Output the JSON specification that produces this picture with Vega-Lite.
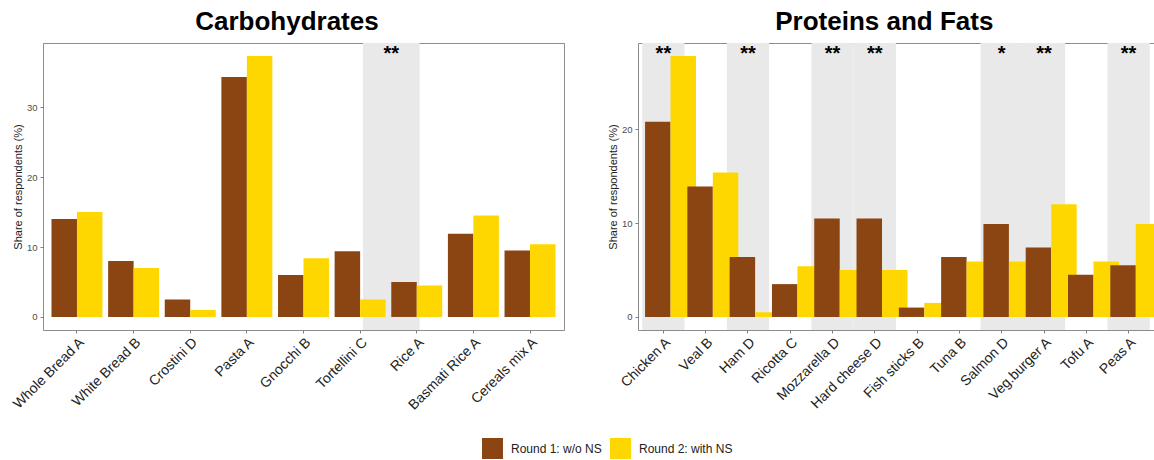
{
  "$schema": "https://vega.github.io/schema/vega-lite/v6.json",
  "padding": {"left": 9, "top": 8, "right": 0, "bottom": 0},
  "background": "white",
  "datasets": {
    "carb": [
      {"item": "Whole Bread A", "round": "Round 1: w/o NS", "share": 14.0},
      {"item": "Whole Bread A", "round": "Round 2: with NS", "share": 15.0},
      {"item": "White Bread B", "round": "Round 1: w/o NS", "share": 8.0},
      {"item": "White Bread B", "round": "Round 2: with NS", "share": 7.0},
      {"item": "Crostini D", "round": "Round 1: w/o NS", "share": 2.5},
      {"item": "Crostini D", "round": "Round 2: with NS", "share": 1.0},
      {"item": "Pasta A", "round": "Round 1: w/o NS", "share": 34.3},
      {"item": "Pasta A", "round": "Round 2: with NS", "share": 37.3},
      {"item": "Gnocchi B", "round": "Round 1: w/o NS", "share": 6.0},
      {"item": "Gnocchi B", "round": "Round 2: with NS", "share": 8.4},
      {"item": "Tortellini C", "round": "Round 1: w/o NS", "share": 9.4},
      {"item": "Tortellini C", "round": "Round 2: with NS", "share": 2.5},
      {"item": "Rice A", "round": "Round 1: w/o NS", "share": 5.0},
      {"item": "Rice A", "round": "Round 2: with NS", "share": 4.5},
      {"item": "Basmati Rice A", "round": "Round 1: w/o NS", "share": 11.9},
      {"item": "Basmati Rice A", "round": "Round 2: with NS", "share": 14.5},
      {"item": "Cereals mix A", "round": "Round 1: w/o NS", "share": 9.5},
      {"item": "Cereals mix A", "round": "Round 2: with NS", "share": 10.4}
    ],
    "prot": [
      {"item": "Chicken A", "round": "Round 1: w/o NS", "share": 20.8},
      {"item": "Chicken A", "round": "Round 2: with NS", "share": 27.8},
      {"item": "Veal B", "round": "Round 1: w/o NS", "share": 13.9},
      {"item": "Veal B", "round": "Round 2: with NS", "share": 15.4},
      {"item": "Ham D", "round": "Round 1: w/o NS", "share": 6.4},
      {"item": "Ham D", "round": "Round 2: with NS", "share": 0.5},
      {"item": "Ricotta C", "round": "Round 1: w/o NS", "share": 3.5},
      {"item": "Ricotta C", "round": "Round 2: with NS", "share": 5.4},
      {"item": "Mozzarella D", "round": "Round 1: w/o NS", "share": 10.5},
      {"item": "Mozzarella D", "round": "Round 2: with NS", "share": 5.0},
      {"item": "Hard cheese D", "round": "Round 1: w/o NS", "share": 10.5},
      {"item": "Hard cheese D", "round": "Round 2: with NS", "share": 5.0},
      {"item": "Fish sticks B", "round": "Round 1: w/o NS", "share": 1.0},
      {"item": "Fish sticks B", "round": "Round 2: with NS", "share": 1.5},
      {"item": "Tuna B", "round": "Round 1: w/o NS", "share": 6.4},
      {"item": "Tuna B", "round": "Round 2: with NS", "share": 5.9},
      {"item": "Salmon D", "round": "Round 1: w/o NS", "share": 9.9},
      {"item": "Salmon D", "round": "Round 2: with NS", "share": 5.9},
      {"item": "Veg.burger A", "round": "Round 1: w/o NS", "share": 7.4},
      {"item": "Veg.burger A", "round": "Round 2: with NS", "share": 12.0},
      {"item": "Tofu A", "round": "Round 1: w/o NS", "share": 4.5},
      {"item": "Tofu A", "round": "Round 2: with NS", "share": 5.9},
      {"item": "Peas A", "round": "Round 1: w/o NS", "share": 5.5},
      {"item": "Peas A", "round": "Round 2: with NS", "share": 9.9}
    ],
    "carbSig": [
      {"item": "Rice A", "sig": "**"}
    ],
    "protSig": [
      {"item": "Chicken A", "sig": "**"},
      {"item": "Ham D", "sig": "**"},
      {"item": "Mozzarella D", "sig": "**"},
      {"item": "Hard cheese D", "sig": "**"},
      {"item": "Salmon D", "sig": "*"},
      {"item": "Veg.burger A", "sig": "**"},
      {"item": "Peas A", "sig": "**"}
    ]
  },
  "hconcat": [
    {
      "width": 521,
      "height": 287,
      "title": {"text": "Carbohydrates"},
      "layer": [
        {
          "data": {"name": "carbSig"},
          "mark": {"type": "rect", "color": "#e9e9e9"},
          "encoding": {
            "x": {"field": "item", "type": "nominal", "bandPosition": -0.45, "title": null,
                  "scale": {"domain": ["Whole Bread A", "White Bread B", "Crostini D", "Pasta A", "Gnocchi B", "Tortellini C", "Rice A", "Basmati Rice A", "Cereals mix A"], "paddingInner": 0, "paddingOuter": 0.1}},
            "x2": {"field": "item", "bandPosition": 0.55}
          }
        },
        {
          "data": {"name": "carb"},
          "mark": {"type": "bar"},
          "encoding": {
            "x": {"field": "item", "type": "nominal", "title": null,
                  "scale": {"domain": ["Whole Bread A", "White Bread B", "Crostini D", "Pasta A", "Gnocchi B", "Tortellini C", "Rice A", "Basmati Rice A", "Cereals mix A"], "paddingInner": 0, "paddingOuter": 0.1}},
            "xOffset": {"field": "round", "type": "nominal", "scale": {"paddingInner": 0, "paddingOuter": 0.111}},
            "y": {"field": "share", "type": "quantitative", "title": "Share of respondents (%)",
                  "scale": {"domain": [-1.865, 39.165], "nice": false, "zero": false},
                  "axis": {"values": [0, 10, 20, 30]}},
            "color": {"field": "round", "type": "nominal",
                      "scale": {"domain": ["Round 1: w/o NS", "Round 2: with NS"], "range": ["#8B4513", "#FFD700"]},
                      "legend": {"orient": "none", "legendX": 439, "legendY": 395, "direction": "horizontal", "title": null,
                                 "symbolType": "square", "symbolSize": 441, "symbolStrokeWidth": 0, "symbolOpacity": 1,
                                 "labelFontSize": 12, "labelColor": "#222", "columnPadding": 8, "labelOffset": 8, "padding": 0}}
          }
        },
        {
          "data": {"name": "carbSig"},
          "mark": {"type": "text", "fontSize": 20, "fontWeight": "bold", "baseline": "middle", "align": "center", "color": "#000"},
          "encoding": {
            "x": {"field": "item", "type": "nominal", "bandPosition": 0.05, "title": null,
                  "scale": {"domain": ["Whole Bread A", "White Bread B", "Crostini D", "Pasta A", "Gnocchi B", "Tortellini C", "Rice A", "Basmati Rice A", "Cereals mix A"], "paddingInner": 0, "paddingOuter": 0.1}},
            "y": {"datum": 37.6, "type": "quantitative", "title": "Share of respondents (%)"},
            "text": {"field": "sig"}
          }
        }
      ]
    },
    {
      "width": 516,
      "height": 287,
      "title": {"text": "Proteins and Fats"},
      "layer": [
        {
          "data": {"name": "protSig"},
          "mark": {"type": "rect", "color": "#e9e9e9"},
          "encoding": {
            "x": {"field": "item", "type": "nominal", "title": null,
                  "scale": {"domain": ["Chicken A", "Veal B", "Ham D", "Ricotta C", "Mozzarella D", "Hard cheese D", "Fish sticks B", "Tuna B", "Salmon D", "Veg.burger A", "Tofu A", "Peas A"], "paddingInner": 0, "paddingOuter": 0.1}}
          }
        },
        {
          "data": {"name": "prot"},
          "mark": {"type": "bar"},
          "encoding": {
            "x": {"field": "item", "type": "nominal", "title": null,
                  "scale": {"domain": ["Chicken A", "Veal B", "Ham D", "Ricotta C", "Mozzarella D", "Hard cheese D", "Fish sticks B", "Tuna B", "Salmon D", "Veg.burger A", "Tofu A", "Peas A"], "paddingInner": 0, "paddingOuter": 0.1}},
            "xOffset": {"field": "round", "type": "nominal", "scale": {"paddingInner": 0, "paddingOuter": 0.111}},
            "y": {"field": "share", "type": "quantitative", "title": "Share of respondents (%)",
                  "scale": {"domain": [-1.39, 29.19], "nice": false, "zero": false},
                  "axis": {"values": [0, 10, 20]}},
            "color": {"field": "round", "type": "nominal"}
          }
        },
        {
          "data": {"name": "protSig"},
          "mark": {"type": "text", "fontSize": 20, "fontWeight": "bold", "baseline": "middle", "align": "center", "color": "#000"},
          "encoding": {
            "x": {"field": "item", "type": "nominal", "title": null,
                  "scale": {"domain": ["Chicken A", "Veal B", "Ham D", "Ricotta C", "Mozzarella D", "Hard cheese D", "Fish sticks B", "Tuna B", "Salmon D", "Veg.burger A", "Tofu A", "Peas A"], "paddingInner": 0, "paddingOuter": 0.1}},
            "y": {"datum": 28.0, "type": "quantitative", "title": "Share of respondents (%)"},
            "text": {"field": "sig"}
          }
        }
      ]
    }
  ],
  "spacing": 41,
  "resolve": {"scale": {"color": "shared"}},
  "config": {
    "font": "Liberation Sans",
    "view": {"stroke": "#8c8c8c", "strokeWidth": 1},
    "axis": {"grid": false, "domain": false, "tickColor": "#7f7f7f", "tickSize": 3, "labelColor": "#4d4d4d"},
    "axisX": {"labelAngle": -45, "labelAlign": "right", "labelBaseline": "top", "labelFontSize": 14, "labelColor": "#222222", "labelPadding": 2},
    "axisY": {"labelFontSize": 9.5, "titleFontSize": 11, "titleFontWeight": "normal", "titleColor": "#222222", "labelPadding": 3, "titlePadding": 3},
    "title": {"fontSize": 26, "fontWeight": "bold", "anchor": "middle", "frame": "bounds", "color": "#000000", "offset": 8}
  }
}
